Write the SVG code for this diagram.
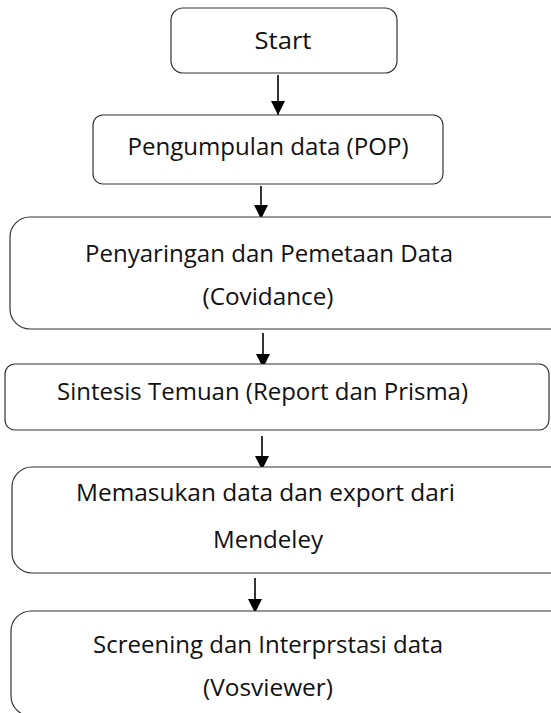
<svg xmlns="http://www.w3.org/2000/svg" width="551" height="713" viewBox="0 0 551 713">
<style>
.box{fill:#ffffff;stroke:#333333;stroke-width:1.2}
.t{font-family:"Open Sans","Noto Sans","Liberation Sans",sans-serif;font-size:24.5px;fill:#111111;text-anchor:middle}
.c{stroke:#000000;stroke-width:1.6;fill:none}
</style>
<defs>
<marker id="ah" markerUnits="userSpaceOnUse" markerWidth="14" markerHeight="14" viewBox="0 0 14 14" refX="14" refY="7" orient="auto">
<path d="M0,0 L14,7 L0,14 Z" fill="#000000"/>
</marker>
</defs>
<rect width="551" height="713" fill="#ffffff"/>
<g id="connectors">
<line class="c" x1="278" y1="75" x2="278" y2="115" marker-end="url(#ah)"/>
<line class="c" x1="261" y1="186" x2="261" y2="219" marker-end="url(#ah)"/>
<line class="c" x1="263" y1="333" x2="263" y2="368" marker-end="url(#ah)"/>
<line class="c" x1="262" y1="436" x2="262" y2="470" marker-end="url(#ah)"/>
<line class="c" x1="255" y1="578" x2="255" y2="613" marker-end="url(#ah)"/>
</g>
<g id="n1">
<rect class="box" x="171" y="8" width="226" height="65" rx="12"/>
<text class="t" x="283" y="49" textLength="57" lengthAdjust="spacingAndGlyphs">Start</text>
</g>
<g id="n2">
<rect class="box" x="93" y="115" width="350" height="69" rx="10"/>
<text class="t" x="268" y="155" textLength="281" lengthAdjust="spacingAndGlyphs">Pengumpulan data (POP)</text>
</g>
<g id="n3">
<rect class="box" x="10" y="217" width="560" height="112" rx="20"/>
<text class="t" x="269" y="262" textLength="368" lengthAdjust="spacingAndGlyphs">Penyaringan dan Pemetaan Data</text>
<text class="t" x="268" y="305" textLength="131" lengthAdjust="spacingAndGlyphs">(Covidance)</text>
</g>
<g id="n4">
<rect class="box" x="5" y="364" width="544" height="66" rx="10"/>
<text class="t" x="262.5" y="400" textLength="411" lengthAdjust="spacingAndGlyphs">Sintesis Temuan (Report dan Prisma)</text>
</g>
<g id="n5">
<rect class="box" x="12" y="467" width="560" height="106" rx="20"/>
<text class="t" x="265.5" y="501" textLength="379" lengthAdjust="spacingAndGlyphs">Memasukan data dan export dari</text>
<text class="t" x="268" y="548" textLength="110" lengthAdjust="spacingAndGlyphs">Mendeley</text>
</g>
<g id="n6">
<rect class="box" x="11" y="611" width="560" height="105" rx="20"/>
<text class="t" x="268" y="653" textLength="350" lengthAdjust="spacingAndGlyphs">Screening dan Interprstasi data</text>
<text class="t" x="268" y="696" textLength="130" lengthAdjust="spacingAndGlyphs">(Vosviewer)</text>
</g>
</svg>
